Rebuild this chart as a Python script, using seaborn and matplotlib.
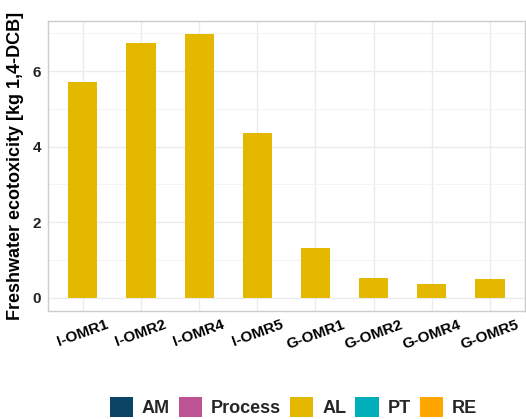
import numpy as np
import matplotlib
matplotlib.use("Agg")
import matplotlib.pyplot as plt
import seaborn as sns
from matplotlib.patches import Patch

categories = ["I-OMR1", "I-OMR2", "I-OMR4", "I-OMR5", "G-OMR1", "G-OMR2", "G-OMR4", "G-OMR5"]
series_names = ["AM", "Process", "AL", "PT", "RE"]
AL = [5.71, 6.75, 6.98, 4.35, 1.31, 0.52, 0.36, 0.50]
AM = [0.0, 0.0, 0.0, 0.0, 0.012, 0.012, 0.012, 0.0]
Process = [0.0, 0.0, 0.0, 0.0, 0.0, 0.0, 0.0, 0.0]
PT = [0.0, 0.0, 0.0, 0.0, 0.0, 0.0, 0.0, 0.0]
RE = [0.0, 0.0, 0.0, 0.0, 0.0, 0.0, 0.0, 0.0]
colors = {"AM": "#0B4566", "Process": "#BD5393", "AL": "#E5B800", "PT": "#00AFBB", "RE": "#FFA600"}

sns.set_theme(style="whitegrid")
plt.rcParams['font.family'] = ['Liberation Sans', 'DejaVu Sans']

fig = plt.figure(figsize=(5.26, 4.19), dpi=100)
ax = fig.add_axes([0.091, 0.258, 0.907, 0.692])

# ggplot stacks first level on top: draw from last to first
stack_order = ["RE", "PT", "AL", "Process", "AM"]
data = {"AM": AM, "Process": Process, "AL": AL, "PT": PT, "RE": RE}
bottom = np.zeros(len(categories))
for name in stack_order:
    vals = np.array(data[name], dtype=float)
    if vals.sum() > 0:
        sns.barplot(x=categories, y=vals, bottom=bottom, color=colors[name],
                    width=0.5, ax=ax, saturation=1, linewidth=0)
    bottom = bottom + vals

ax.set_xlim(-0.6, 7.6)
ax.set_ylim(-0.35, 7.33)
ax.set_yticks([0, 2, 4, 6])
ax.set_yticks([1, 3, 5, 7], minor=True)
ax.grid(True, which="major", color="#EBEBEB", linewidth=1.0)
ax.grid(True, which="minor", axis="y", color="#F3F3F3", linewidth=0.6)
ax.set_axisbelow(True)
for s in ax.spines.values():
    s.set_color("#CCCCCC")
    s.set_linewidth(1.0)
    s.set_visible(True)

ax.tick_params(axis="both", which="major", length=3, color="#333333", pad=2)
ax.tick_params(axis="y", which="minor", length=0)
ax.set_xticks(range(len(categories)))
ax.set_xticklabels(categories, rotation=20, fontsize=11, fontweight="bold", color="black")
for lbl in ax.get_xticklabels():
    lbl.set_horizontalalignment("center")
for lbl in ax.get_yticklabels():
    lbl.set_fontsize(11)
    lbl.set_fontweight("bold")
    lbl.set_color("#222222")
ax.set_xlabel("")
ax.set_ylabel("Freshwater ecotoxicity [kg 1,4-DCB]", fontsize=13, fontweight="bold",
              labelpad=6, color="black")

handles = [Patch(facecolor=colors[n], edgecolor="none", label=n) for n in series_names]
fig.legend(handles=handles, loc="center", bbox_to_anchor=(0.558, 0.028), ncol=5, frameon=False,
           prop={"weight": "bold", "size": 13}, handlelength=1.28, handleheight=1.28,
           handletextpad=0.5, columnspacing=0.5, borderaxespad=0, borderpad=0)

fig.savefig("out.png", dpi=100)
